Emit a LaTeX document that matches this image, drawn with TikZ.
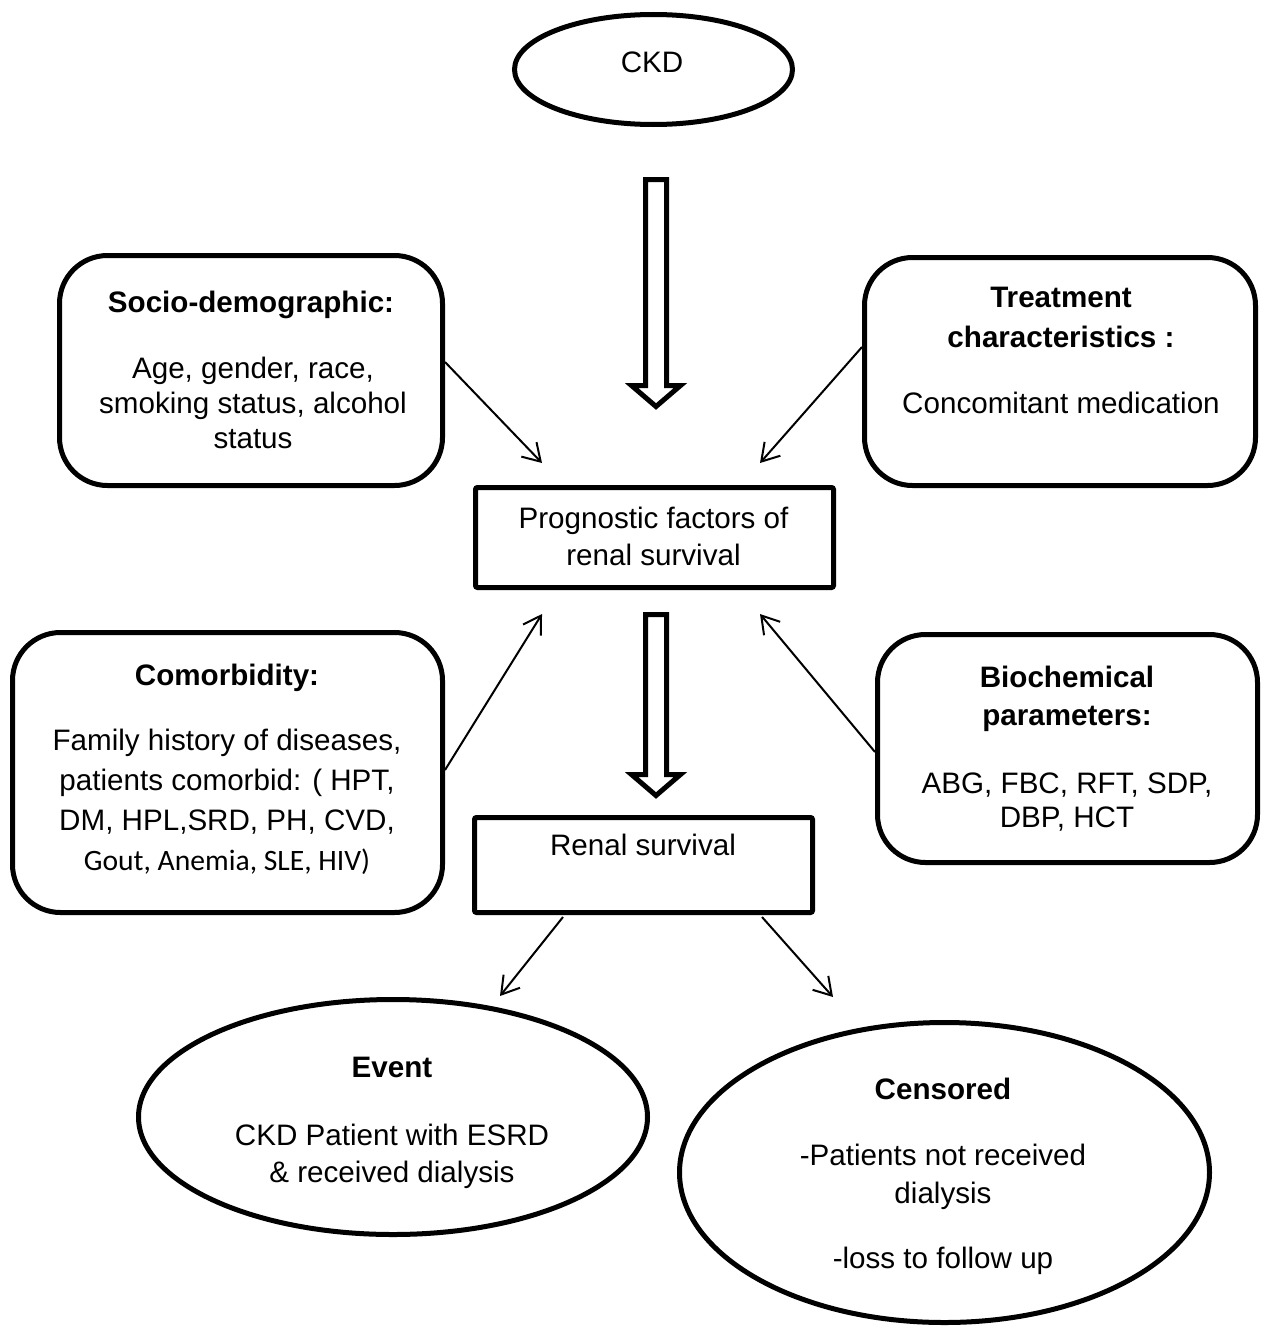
\documentclass[tikz,border=0pt]{standalone}
\usepackage{fontspec}
\setmainfont{Liberation Sans}
\newfontfamily\calib{Carlito}
\usetikzlibrary{shapes.geometric,arrows.meta}
\begin{document}
\begin{tikzpicture}[x=1pt,y=-1pt,
  every node/.style={font=\fontsize{29.6}{35}\selectfont},
  rbox/.style={draw, line width=5pt, rounded corners=48pt, inner sep=0pt},
  sbox/.style={draw, line width=5pt, rounded corners=2pt, inner sep=0pt},
  oval/.style={draw, ellipse, line width=5pt, inner sep=0pt},
  ln/.style={inner sep=0pt, anchor=base},
  hd/.style={inner sep=0pt, anchor=base, font=\fontsize{29.6}{35}\selectfont\bfseries},
  thinarrow/.style={line width=2pt, -{Straight Barb[length=17pt,width=21pt,line width=2pt]}},
  blockarrow/.style={draw, line width=5pt, line join=miter, fill=white}]
\useasboundingbox (0,0) rectangle (1266,1330);

% shapes
\node[oval, minimum width=278pt, minimum height=110pt] (ckd) at (653.5,69.5) {};
\node[rbox, minimum width=383pt, minimum height=230pt] (socio) at (251,370.5) {};
\node[rbox, minimum width=391pt, minimum height=228pt] (treat) at (1060,371.5) {};
\node[sbox, minimum width=358pt, minimum height=100pt] (prog) at (654.5,537.5) {};
\node[rbox, minimum width=430pt, minimum height=280pt] (comor) at (227.5,772.5) {};
\node[rbox, minimum width=380pt, minimum height=228pt] (bio) at (1067.5,748.5) {};
\node[sbox, minimum width=338pt, minimum height=95pt] (renal) at (643.5,865) {};
\node[oval, minimum width=509pt, minimum height=235pt] (event) at (393,1117) {};
\node[oval, minimum width=530pt, minimum height=300pt] (cens) at (944.5,1172.5) {};

% texts
\node[ln] (tckd) at (652,73) {CKD};

\node[hd] (ts0) at (251,312) {Socio-demographic:};
\node[ln] (ts1) at (253,378) {Age, gender, race,};
\node[ln] (ts2) at (253,413) {smoking status, alcohol};
\node[ln] (ts3) at (253,448) {status};

\node[hd] (tt0) at (1061,307) {Treatment};
\node[hd] (tt1) at (1061,347) {characteristics :};
\node[ln] (tt2) at (1061,413) {Concomitant medication};

\node[ln] (tp1) at (653.5,528) {Prognostic factors of};
\node[ln] (tp2) at (653.5,565) {renal survival};

\node[hd] (tc0) at (227,685) {Comorbidity:};
\node[ln] (tc1) at (227,750) {Family history of diseases,};
\node[ln] (tc2) at (227,790) {patients comorbid: ( HPT,};
\node[ln] (tc3) at (227,830) {DM, HPL,SRD, PH, CVD,};
\node[ln, font=\fontsize{29.6}{35}\selectfont\calib] (tc4) at (227,870) {Gout, Anemia, SLE, HIV)};

\node[hd] (tb0) at (1067,687) {Biochemical};
\node[hd] (tb1) at (1067,725) {parameters:};
\node[ln] (tb2) at (1067,793) {ABG, FBC, RFT, SDP,};
\node[ln] (tb3) at (1067,827) {DBP, HCT};

\node[ln] (tr) at (643,855) {Renal survival};

\node[hd] (te0) at (392,1077) {Event};
\node[ln] (te1) at (392,1145) {CKD Patient with ESRD};
\node[ln] (te2) at (392,1182) {\& received dialysis};

\node[hd] (tx0) at (943,1099) {Censored};
\node[ln] (tx1) at (943,1165) {-Patients not received};
\node[ln] (tx2) at (943,1203) {dialysis};
\node[ln] (tx3) at (943,1268) {-loss to follow up};

% block arrows
\draw[blockarrow] (645.5,179.5) -- (666.5,179.5) -- (666.5,385.5) -- (680.5,385.5)
  -- (656,406.5) -- (631.5,385.5) -- (645.5,385.5) -- cycle;
\draw[blockarrow] (645.5,614.5) -- (666.5,614.5) -- (666.5,774.5) -- (680.5,774.5)
  -- (656,795.5) -- (631.5,774.5) -- (645.5,774.5) -- cycle;

% thin arrows
\coordinate (s1) at (445,362);   \coordinate (e1) at (542,463);
\coordinate (s2) at (862,347);   \coordinate (e2) at (760,463);
\coordinate (s3) at (445,770);   \coordinate (e3) at (542,614);
\coordinate (s4) at (875,752);   \coordinate (e4) at (760,614);
\coordinate (s5) at (563,917);   \coordinate (e5) at (500,996);
\coordinate (s6) at (762,917);   \coordinate (e6) at (833,997);
\draw[thinarrow] (s1) -- (e1);
\draw[thinarrow] (s2) -- (e2);
\draw[thinarrow] (s3) -- (e3);
\draw[thinarrow] (s4) -- (e4);
\draw[thinarrow] (s5) -- (e5);
\draw[thinarrow] (s6) -- (e6);
\end{tikzpicture}
\end{document}
